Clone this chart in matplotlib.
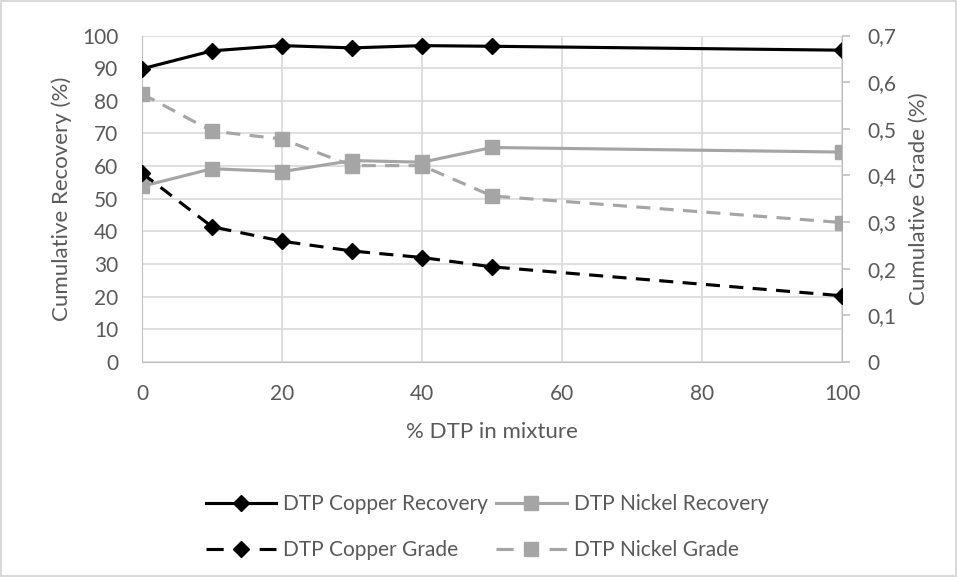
import matplotlib.pyplot as plt
from matplotlib.lines import Line2D
from matplotlib.ticker import MultipleLocator, FuncFormatter

# data
dtp = [0, 10, 20, 30, 40, 50, 100]
cu_recovery = [89.8, 95.3, 96.9, 96.2, 96.9, 96.7, 95.5]
ni_recovery = [53.8, 59.2, 58.3, 61.7, 61.2, 65.7, 64.3]
cu_grade = [0.405, 0.29, 0.259, 0.238, 0.224, 0.204, 0.142]
ni_grade = [0.575, 0.495, 0.478, 0.421, 0.421, 0.356, 0.299]

plt.rcParams['font.family'] = ['Lato', 'DejaVu Sans']
txt = '#595959'
grey = '#a5a5a5'
fs = 15

fig = plt.figure(figsize=(9.57, 5.77), dpi=100)
fig.patch.set_edgecolor('#d9d9d9')
fig.patch.set_linewidth(1.5)
ax = fig.add_axes([142/957, 1-362/577, 700/957, 326.5/577])
ax2 = ax.twinx()

lw = 2.25
dash = (4.5, 3)
ax.plot(dtp, cu_recovery, color='black', lw=lw, marker='D', ms=8.5, zorder=4)
ax.plot(dtp, ni_recovery, color=grey, lw=lw, marker='s', ms=9.5, zorder=3)
ax2.plot(dtp, cu_grade, color='black', lw=lw, marker='D', ms=8.5, linestyle=(0, dash), zorder=4)
ax2.plot(dtp, ni_grade, color=grey, lw=lw, marker='s', ms=9.5, linestyle=(0, dash), zorder=3)

ax.set_xlim(0, 100)
ax.set_ylim(0, 100)
ax2.set_ylim(0, 0.7)
ax.xaxis.set_major_locator(MultipleLocator(20))
ax.yaxis.set_major_locator(MultipleLocator(10))
ax2.yaxis.set_major_locator(MultipleLocator(0.1))
ax2.yaxis.set_major_formatter(FuncFormatter(lambda v, p: ('%g' % round(v, 1)).replace('.', ',')))

ax.grid(True, color='#d9d9d9', lw=1.2)
ax.set_axisbelow(True)
for a in (ax, ax2):
    for s in a.spines.values():
        s.set_visible(False)
    a.tick_params(labelsize=fs, colors=txt, length=0)
ax.tick_params(axis='y', pad=17)
ax.tick_params(axis='x', pad=16)
ax.spines['left'].set_visible(True)
ax.spines['left'].set_color('#bfbfbf')
ax.spines['bottom'].set_visible(True)
ax.spines['bottom'].set_color('#bfbfbf')
ax2.spines['right'].set_visible(True)
ax2.spines['right'].set_color('#bfbfbf')
ax2.tick_params(axis='y', length=6, color='#bfbfbf', width=1.2, pad=12)

ax.set_xlabel('% DTP in mixture', fontsize=16, color=txt, labelpad=13)
ax.set_ylabel('Cumulative Recovery (%)', fontsize=16, color=txt, labelpad=7)
ax2.set_ylabel('Cumulative Grade (%)', fontsize=16, color=txt, labelpad=9)

# legend proxies: the dashed ones get one dash each side of the marker, like Excel
leg_dash = (0, (5.5, 11.5))
handles = [
    Line2D([], [], color='black', lw=lw, marker='D', ms=8.5, label='DTP Copper Recovery'),
    Line2D([], [], color='black', lw=lw, marker='D', ms=8.5, linestyle=leg_dash, label='DTP Copper Grade'),
    Line2D([], [], color=grey, lw=lw, marker='s', ms=9.5, label='DTP Nickel Recovery'),
    Line2D([], [], color=grey, lw=lw, marker='s', ms=9.5, linestyle=leg_dash, label='DTP Nickel Grade'),
]
leg = fig.legend(handles=handles, loc='center', bbox_to_anchor=(487/957, 1-527/577),
                 ncol=2, frameon=False, fontsize=fs, labelcolor=txt, handlelength=3.4,
                 handletextpad=0.33, columnspacing=0.38, labelspacing=1.25)

plt.savefig('out.png', dpi=100)
